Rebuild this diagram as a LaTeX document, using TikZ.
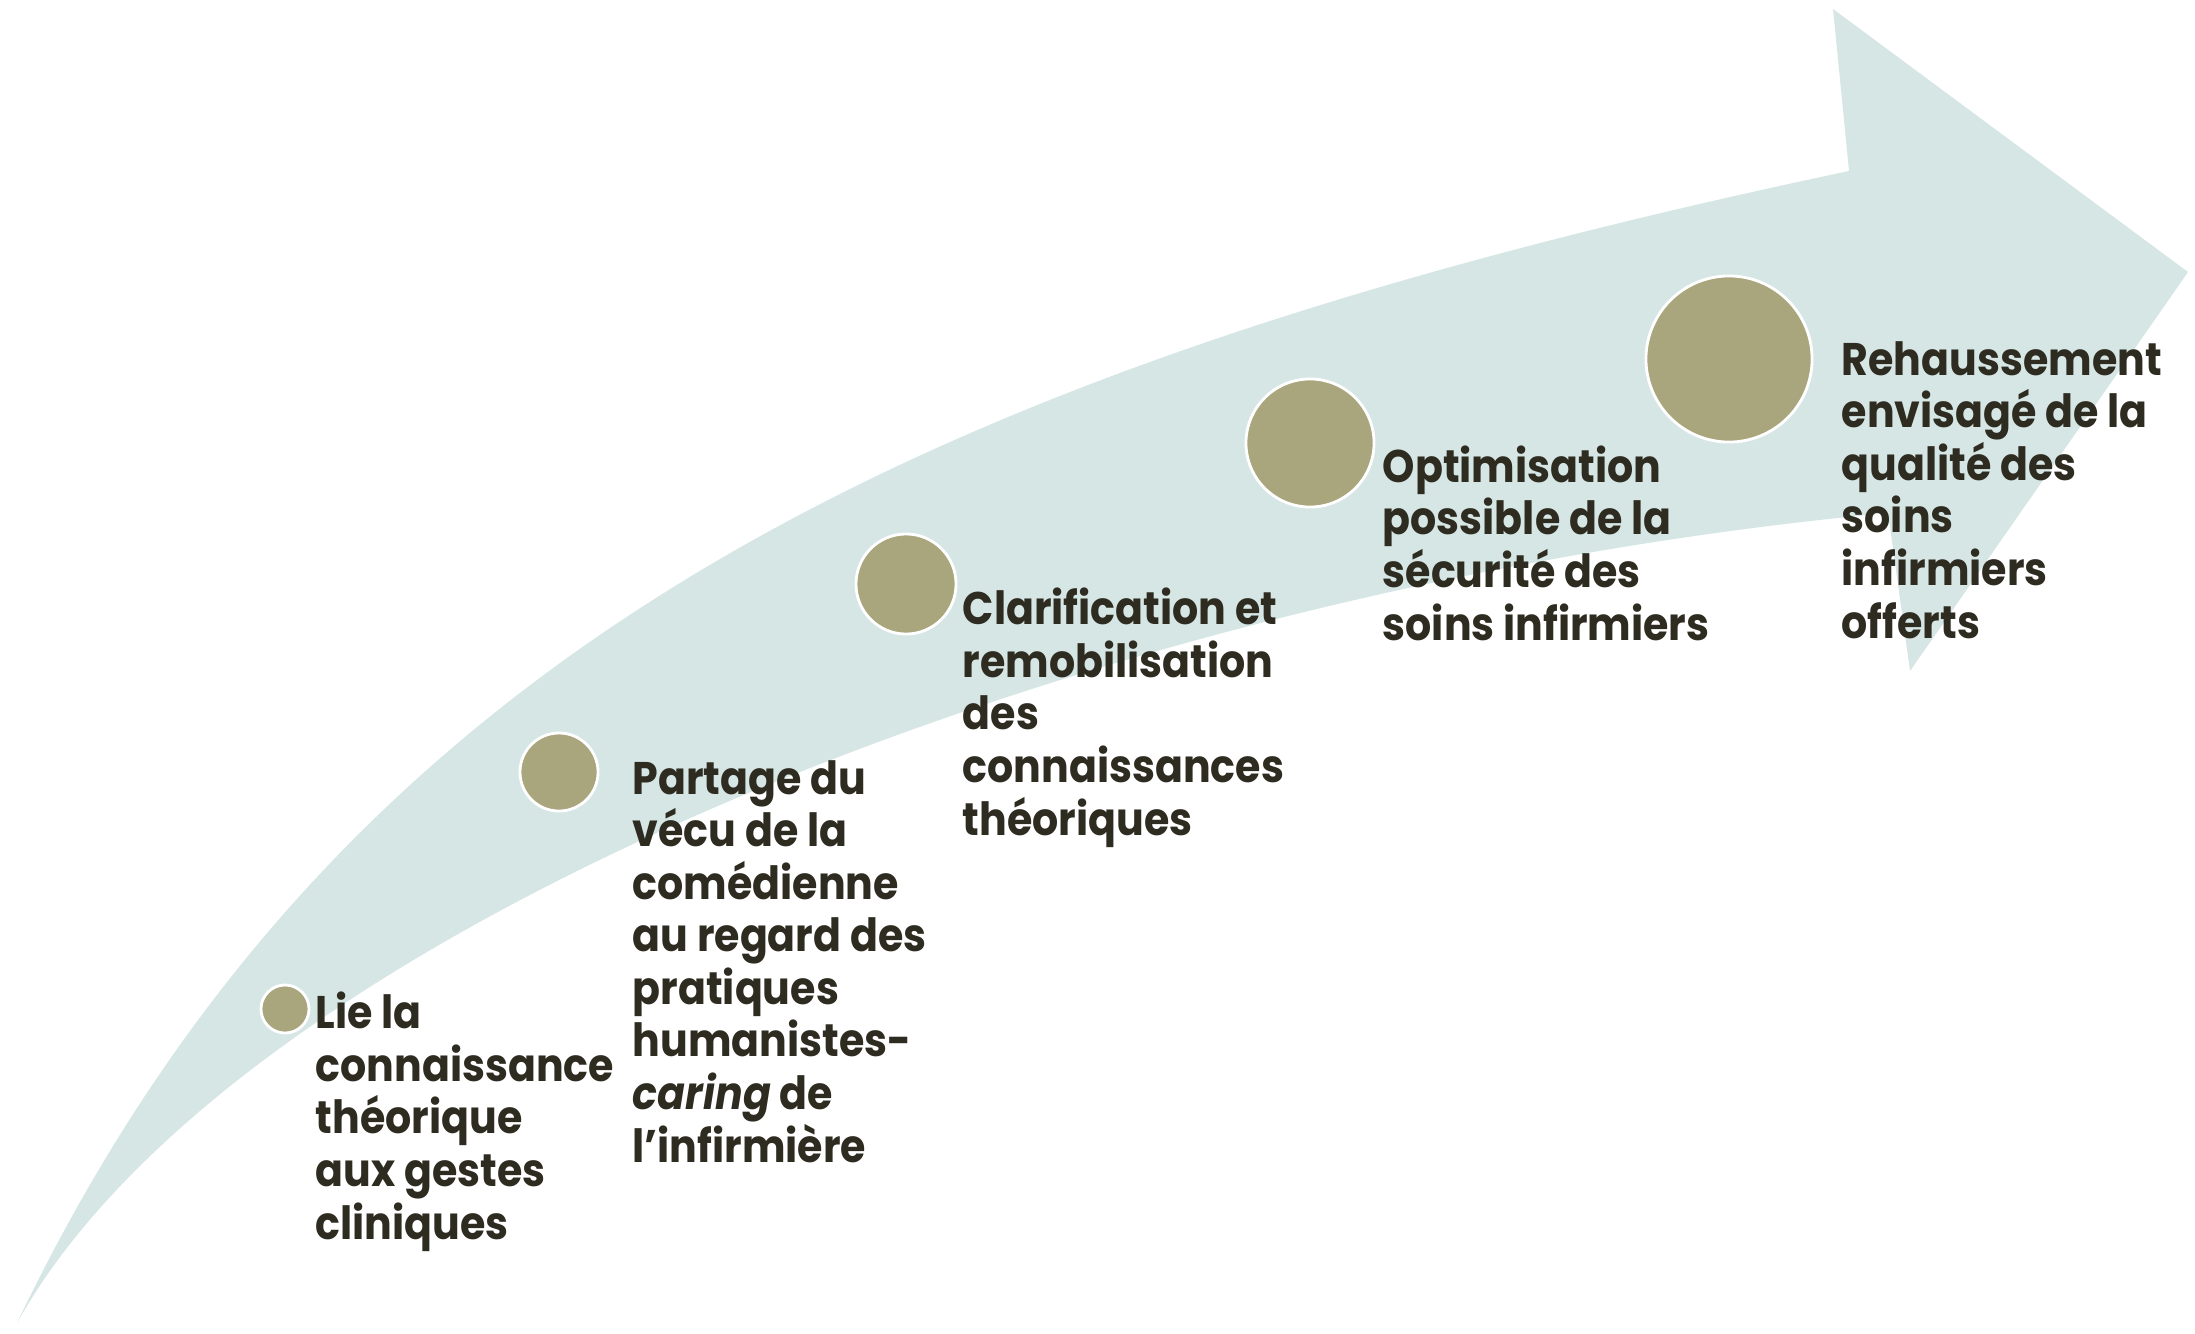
\documentclass[tikz,border=0pt]{standalone}
\usepackage{fontspec}
\setmainfont{Poppins}[FakeStretch=0.9]
\usetikzlibrary{positioning}
\definecolor{bandblue}{HTML}{D6E6E5}
\definecolor{dotolive}{HTML}{A9A57C}
\definecolor{inkdark}{HTML}{2E2B20}

\begin{document}
\begin{tikzpicture}[x=0.01cm,y=-0.01cm,
	dot/.style={circle, fill=dotolive, draw=white, line width=0.8pt, inner sep=0pt},
	steptext/.style={anchor=base west, align=left, inner sep=0pt, text=inkdark,
		font=\fontsize{13}{14.94}\selectfont\bfseries}]
	\useasboundingbox (0,0) rectangle (2195,1333);

	% the curved band and its head
	\fill[bandblue] (17,1323) .. controls (340,648) and (920,367) .. (1849,171)
		-- (1833,9) -- (2188,272) -- (1910,671) -- (1888,513)
		.. controls (1091,587) and (236,930) .. (17,1323) -- cycle;

	% growing dots
	\node[dot, minimum size=0.48cm] (c1) at (285,1009) {};
	\node[dot, minimum size=0.78cm] (c2) at (559,772) {};
	\node[dot, minimum size=1.00cm] (c3) at (906,584) {};
	\node[dot, minimum size=1.28cm] (c4) at (1310,443) {};
	\node[dot, minimum size=1.66cm] (c5) at (1729,359) {};

	% texts (base = baseline of the last line)
	\node[steptext] (t1) at (315,1239) {Lie la\\connaissance\\théorique\\aux gestes\\cliniques};
	\node[steptext] (t2) at (632,1162) {Partage du\\vécu de la\\comédienne\\au regard des\\pratiques\\humanistes-\\\textit{caring} de\\l’infirmière};
	\node[steptext] (t3) at (962,835) {Clarification et\\remobilisation\\des\\connaissances\\théoriques};
	\node[steptext] (t4) at (1382,640) {Optimisation\\possible de la\\sécurité des\\soins infirmiers};
	\node[steptext] (t5) at (1841,638) {Rehaussement\\envisagé de la\\qualité des\\soins\\infirmiers\\offerts};
\end{tikzpicture}
\end{document}
